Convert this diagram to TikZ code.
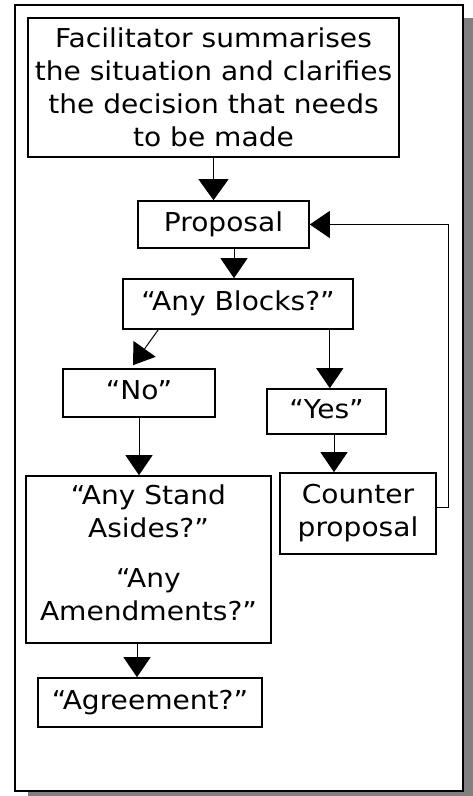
\documentclass[tikz,border=0pt]{standalone}
\usepackage{fontspec}
\setmainfont{DejaVu Sans}[FakeStretch=1.08]
\usetikzlibrary{arrows.meta}

\begin{document}
\begin{tikzpicture}[x=1pt, y=1pt,
        box/.style={draw, line width=1.6pt, inner sep=0pt, align=center,
                    font=\fontsize{26}{33}\selectfont},
        link/.style={line width=1pt, -{Triangle[length=20pt,width=27pt]}}
                            ]
        % page and shadow
        \clip (0,0) rectangle (473,796);
        \fill[gray] (28,-8) rectangle (476,777.5);
        \draw[line width=2pt, fill=white] (15,5) rectangle (462.5,790.5);
        % boxes
        \node[box, minimum width=371, minimum height=139] (fac) at (213.5,708.5)
            {Facilitator summarises\\the situation and clarifies\\the decision that needs\\to be made};
        \node[box, minimum width=171, minimum height=47] (prop) at (223.5,571.5) {\strut Proposal};
        \node[box, minimum width=230, minimum height=50] (blocks) at (238,492) {\strut “Any Blocks?”};
        \node[box, minimum width=152, minimum height=48] (no) at (139,403) {\strut “No”};
        \node[box, minimum width=119, minimum height=45] (yes) at (326.5,384.5) {\strut “Yes”};
        \node[box, minimum width=156, minimum height=81] (counter) at (358,282.5) {Counter\\proposal};
        \node[box, minimum width=245, minimum height=167, text depth=13pt] (stand) at (148.5,236.5)
            {“Any Stand\\Asides?”\\[17pt]“Any\\Amendments?”};
        \node[box, minimum width=224, minimum height=49] (agree) at (150,93.5) {\strut “Agreement?”};
        % arrows
        \draw[link, -{Triangle[length=21pt,width=30pt]}] (fac.south) -- (fac.south |- prop.north);
        \draw[link] ([xshift=10.5pt]prop.south) -- ([xshift=10.5pt]prop.south |- blocks.north);
        \draw[link] ([xshift=36pt]blocks.south west) -- ([xshift=-6pt,yshift=3pt]no.north);
        \draw[link] ([xshift=-24pt]blocks.south east) -- ([xshift=-24pt]blocks.south east |- yes.north);
        \draw[link] ([xshift=7.5pt]yes.south) -- ([xshift=7.5pt]yes.south |- counter.north);
        \draw[link] (no.south) -- (no.south |- stand.north);
        \draw[link] ([xshift=-11.5pt]stand.south) -- ([xshift=-11.5pt]stand.south |- agree.north);
        % back to the proposal
        \draw[link] ([yshift=5.5pt]counter.east) -- ++(12,0) |- (prop.east);
\end{tikzpicture}
\end{document}
